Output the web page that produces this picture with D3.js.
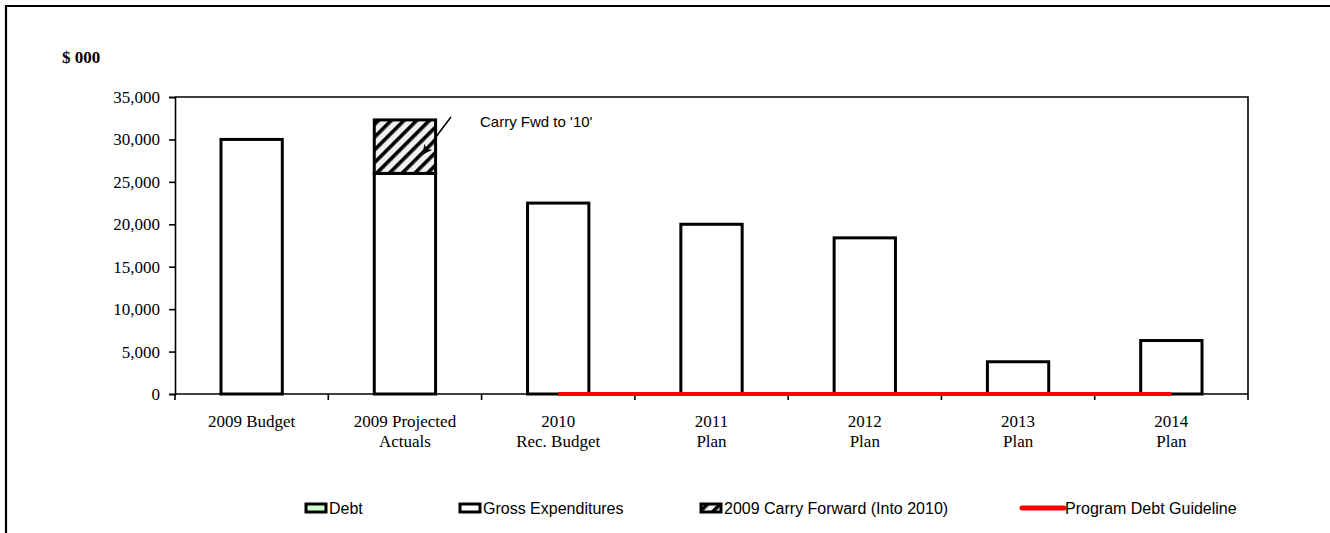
<!DOCTYPE html>
<html>
<head>
<meta charset="utf-8">
<script src="https://cdn.jsdelivr.net/npm/d3@7"></script>
<style>
  html, body { margin: 0; padding: 0; background: #fff; }
  svg { display: block; }
</style>
</head>
<body>
<svg id="chart" width="1330" height="533"></svg>
<script>
// Categories and series (thousands of dollars)
const categories = [
  ["2009 Budget"],
  ["2009 Projected", "Actuals"],
  ["2010", "Rec. Budget"],
  ["2011", "Plan"],
  ["2012", "Plan"],
  ["2013", "Plan"],
  ["2014", "Plan"]
];
const debt = [0, 0, 0, 0, 0, 0, 0];
const grossExpenditures = [30000, 26000, 22500, 20000, 18400, 3800, 6300];
const carryForward = [0, 6300, 0, 0, 0, 0, 0];
const debtGuideline = [null, null, 0, 0, 0, 0, 0];
const yTicks = [0, 5000, 10000, 15000, 20000, 25000, 30000, 35000];

const svg = d3.select("#chart");
const catKeys = categories.map(c => c.join(" "));

const plot = { left: 175, right: 1248, top: 97, bottom: 394 };

const x = d3.scaleBand()
  .domain(catKeys)
  .range([plot.left, plot.right])
  .paddingInner(0.6)
  .paddingOuter(0.3);

const y = d3.scaleLinear()
  .domain([0, 35000])
  .range([plot.bottom, plot.top]);

// Hatch pattern for the carry-forward segment
const defs = svg.append("defs");
const pat = defs.append("pattern")
  .attr("id", "hatch")
  .attr("patternUnits", "userSpaceOnUse")
  .attr("width", 9).attr("height", 9)
  .attr("patternTransform", "rotate(45)");
pat.append("rect").attr("width", 9).attr("height", 9).attr("fill", "#f2f2f2");
pat.append("rect").attr("x", 0).attr("width", 3.6).attr("height", 9).attr("fill", "#000");

// Outer chart frame (runs off the right and bottom edges)
svg.append("path")
  .attr("d", "M6,540 L6,6 L1340,6")
  .attr("fill", "none")
  .attr("stroke", "#000")
  .attr("stroke-width", 2.2);

// Plot area border (top and right)
svg.append("path")
  .attr("d", `M${plot.left},${plot.top} L${plot.right},${plot.top} L${plot.right},${plot.bottom}`)
  .attr("fill", "none")
  .attr("stroke", "#000")
  .attr("stroke-width", 1.6);

// Y axis
const yAxis = svg.append("g")
  .attr("transform", `translate(${plot.left},0)`)
  .call(d3.axisLeft(y).tickValues(yTicks).tickSize(6).tickPadding(9)
    .tickFormat(d3.format(",")));
yAxis.select(".domain").attr("stroke-width", 1.6);
yAxis.selectAll(".tick line").attr("stroke-width", 1.6);
yAxis.selectAll("text")
  .attr("font-family", "Liberation Serif, Times New Roman, serif")
  .attr("font-size", 17)
  .attr("fill", "#000");

// Units label
svg.append("text")
  .attr("x", 62).attr("y", 63)
  .attr("font-family", "Liberation Serif, Times New Roman, serif")
  .attr("font-weight", "bold")
  .attr("font-size", 17)
  .attr("fill", "#000")
  .text("$ 000");

// Bars: debt, gross expenditures, carry forward (stacked)
const rows = catKeys.map((k, i) => ({
  key: k,
  segs: [
    { name: "debt", v0: 0, v1: debt[i], fill: "#ccffcc" },
    { name: "gross", v0: debt[i], v1: debt[i] + grossExpenditures[i], fill: "#fff" },
    { name: "carry", v0: debt[i] + grossExpenditures[i], v1: debt[i] + grossExpenditures[i] + carryForward[i], fill: "url(#hatch)" }
  ].filter(s => s.v1 > s.v0)
}));

const barG = svg.append("g");
rows.forEach(r => {
  barG.selectAll(null)
    .data(r.segs)
    .enter().append("rect")
    .attr("x", x(r.key))
    .attr("width", x.bandwidth())
    .attr("y", s => y(s.v1))
    .attr("height", s => y(s.v0) - y(s.v1))
    .attr("fill", s => s.fill)
    .attr("stroke", "#000")
    .attr("stroke-width", 3);
});

// X axis line and category-boundary ticks
const step = x.step();
const x0 = plot.left;
svg.append("line")
  .attr("x1", plot.left).attr("x2", plot.right)
  .attr("y1", y(0)).attr("y2", y(0))
  .attr("stroke", "#000").attr("stroke-width", 1.6);
d3.range(catKeys.length + 1).forEach(i => {
  svg.append("line")
    .attr("x1", x0 + i * step).attr("x2", x0 + i * step)
    .attr("y1", y(0)).attr("y2", y(0) + 6)
    .attr("stroke", "#000").attr("stroke-width", 1.6);
});

// X labels
categories.forEach((lines, i) => {
  const cx = x(catKeys[i]) + x.bandwidth() / 2;
  const t = svg.append("text")
    .attr("text-anchor", "middle")
    .attr("font-family", "Liberation Serif, Times New Roman, serif")
    .attr("font-size", 17)
    .attr("fill", "#000");
  lines.forEach((ln, j) => {
    t.append("tspan").attr("x", cx).attr("y", 427 + j * 20).text(ln);
  });
});

// Program debt guideline line
const line = d3.line()
  .defined(d => d.v !== null)
  .x(d => x(d.k) + x.bandwidth() / 2)
  .y(d => y(d.v));
svg.append("path")
  .datum(catKeys.map((k, i) => ({ k, v: debtGuideline[i] })))
  .attr("d", line)
  .attr("fill", "none")
  .attr("stroke", "#ff0000")
  .attr("stroke-width", 4);

// Carry-forward annotation
defs.append("marker")
  .attr("id", "arrow")
  .attr("viewBox", "0 0 10 10")
  .attr("refX", 9).attr("refY", 5)
  .attr("markerUnits", "userSpaceOnUse")
  .attr("markerWidth", 12).attr("markerHeight", 10)
  .attr("orient", "auto")
  .append("path").attr("d", "M0,0 L10,5 L0,10 L3,5 z").attr("fill", "#000");
svg.append("line")
  .attr("x1", 451).attr("y1", 117)
  .attr("x2", 423).attr("y2", 154)
  .attr("stroke", "#000").attr("stroke-width", 1.5)
  .attr("marker-end", "url(#arrow)");
svg.append("text")
  .attr("x", 480).attr("y", 127)
  .attr("font-family", "Liberation Sans, Arial, sans-serif")
  .attr("font-size", 15)
  .attr("fill", "#000")
  .text("Carry Fwd to '10'");

// Legend
const legend = [
  { label: "Debt", type: "box", fill: "#ccffcc", x: 306 },
  { label: "Gross Expenditures", type: "box", fill: "#fff", x: 460 },
  { label: "2009 Carry Forward (Into 2010)", type: "box", fill: "url(#hatch)", x: 701 },
  { label: "Program Debt Guideline", type: "line", fill: "#ff0000", x: 1022 }
];
const ly = 508;
legend.forEach(it => {
  if (it.type === "box") {
    svg.append("rect")
      .attr("x", it.x).attr("y", ly - 4)
      .attr("width", 20).attr("height", 8)
      .attr("fill", it.fill)
      .attr("stroke", "#000").attr("stroke-width", 3);
  } else {
    svg.append("line")
      .attr("x1", it.x).attr("x2", it.x + 42)
      .attr("y1", ly).attr("y2", ly)
      .attr("stroke", it.fill).attr("stroke-width", 5)
      .attr("stroke-linecap", "round");
  }
  const tx = it.type === "box" ? it.x + 23 : it.x + 43;
  svg.append("text")
    .attr("x", tx).attr("y", ly + 6)
    .attr("font-family", "Liberation Sans, Arial, sans-serif")
    .attr("font-size", 16)
    .attr("fill", "#000")
    .text(it.label);
});
</script>
</body>
</html>
